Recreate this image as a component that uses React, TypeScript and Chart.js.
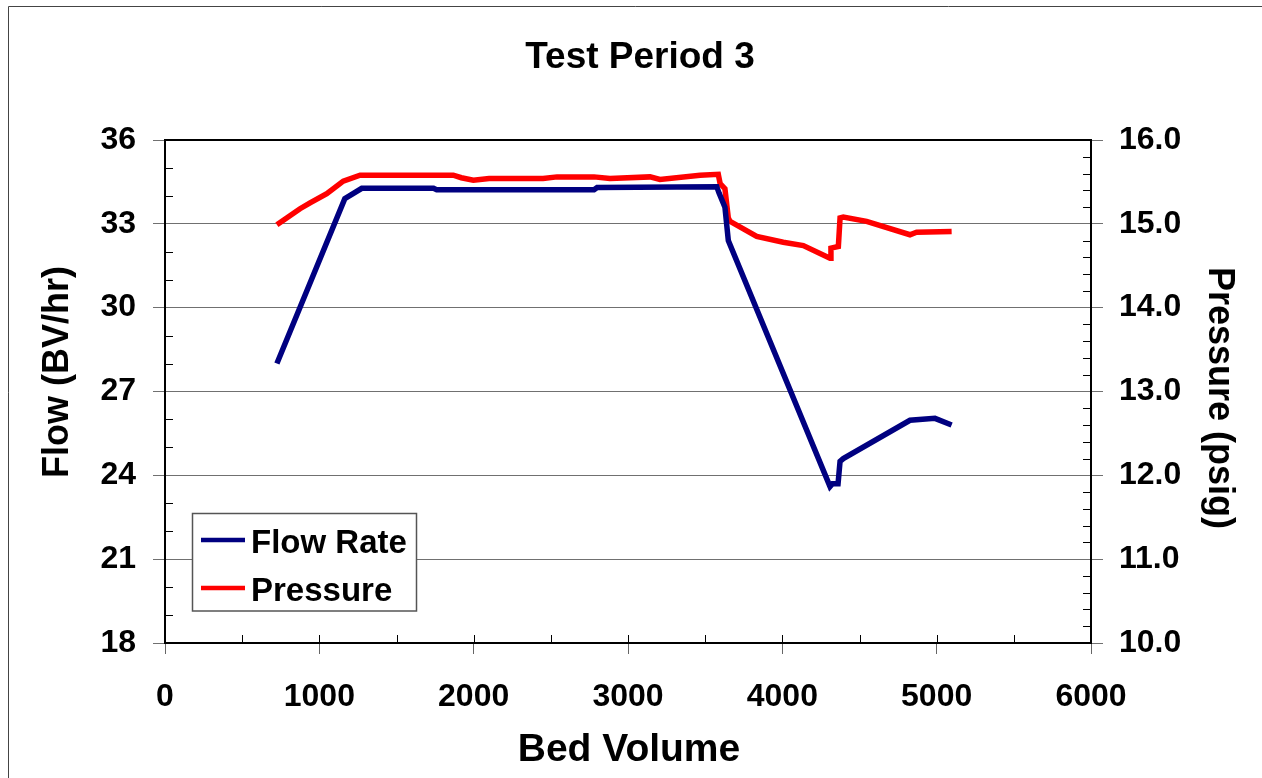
import React, { useEffect, useRef } from "react";
import { Chart, registerables } from "chart.js";

Chart.register(...registerables);

const chartTitle = "Test Period 3";
const xTitle = "Bed Volume";
const yTitle = "Flow (BV/hr)";
const y2Title = "Pressure (psig)";

const flowLabel = "Flow Rate";
const pressureLabel = "Pressure";

const flowBV = [725, 1165, 1275, 1740, 1760, 2780, 2800, 3575, 3590, 3628, 3650, 4309, 4325, 4361, 4374, 4395, 4827, 4989, 5097];
const flowRate = [28.0, 33.9, 34.27, 34.27, 34.22, 34.22, 34.3, 34.33, 34.1, 33.6, 32.4, 23.6, 23.7, 23.7, 24.5, 24.6, 25.97, 26.04, 25.8];

const pressureBV = [725, 875, 940, 1048, 1155, 1264, 1868, 1920, 1998, 2100, 2450, 2540, 2780, 2883, 3143, 3207, 3467, 3585, 3597, 3628, 3650, 3661, 3834, 4006, 4136, 4309, 4315, 4363, 4374, 4395, 4546, 4827, 4870, 5097];
const pressureVal = [14.99, 15.18, 15.25, 15.36, 15.51, 15.58, 15.58, 15.55, 15.52, 15.54, 15.54, 15.56, 15.56, 15.54, 15.56, 15.53, 15.58, 15.59, 15.48, 15.42, 15.07, 15.03, 14.85, 14.78, 14.74, 14.59, 14.71, 14.73, 15.07, 15.08, 15.03, 14.87, 14.9, 14.91];

const FLOW_COLOR = "#000080";
const PRESSURE_COLOR = "#FF0000";
const FONT = "'Liberation Sans', Arial, sans-serif";

const decorPlugin = {
  id: "decor",
  beforeDatasetsDraw(chart: any) {
    const { ctx, chartArea: ca, scales } = chart;
    ctx.save();
    ctx.strokeStyle = "#000";
    ctx.lineWidth = 1;
    ctx.beginPath();
    for (let v = 18; v <= 36; v += 1) {
      if (v % 3 === 0) continue;
      const y = Math.round(scales.y.getPixelForValue(v)) + 0.5;
      ctx.moveTo(ca.left, y);
      ctx.lineTo(ca.left + 8, y);
    }
    for (let i = 0; i <= 30; i++) {
      if (i % 5 === 0) continue;
      const v = 10 + i * 0.2;
      const y = Math.round(scales.y2.getPixelForValue(v)) + 0.5;
      ctx.moveTo(ca.right - 8, y);
      ctx.lineTo(ca.right, y);
    }
    for (let v = 500; v < 6000; v += 500) {
      const x = Math.round(scales.x.getPixelForValue(v)) + 0.5;
      ctx.moveTo(x, ca.bottom - 8);
      ctx.lineTo(x, ca.bottom);
    }
    ctx.stroke();
    ctx.lineWidth = 2;
    ctx.strokeStyle = "#000";
    ctx.strokeRect(ca.left, ca.top, ca.right - ca.left, ca.bottom - ca.top);
    ctx.restore();
  },
  afterDraw(chart: any) {
    const { ctx } = chart;
    ctx.save();
    ctx.strokeStyle = "#444";
    ctx.lineWidth = 1;
    ctx.beginPath();
    ctx.moveTo(8.5, 778);
    ctx.lineTo(8.5, 6.5);
    ctx.lineTo(1262, 6.5);
    ctx.stroke();

    ctx.fillStyle = "#000";
    ctx.textBaseline = "alphabetic";
    ctx.textAlign = "center";
    ctx.font = `bold 37px ${FONT}`;
    ctx.fillText(chartTitle, 640, 68);

    ctx.font = `bold 39px ${FONT}`;
    ctx.fillText(xTitle, 629, 761);

    ctx.font = `bold 36px ${FONT}`;
    ctx.save();
    ctx.translate(68, 372);
    ctx.rotate(-Math.PI / 2);
    ctx.fillText(yTitle, 0, 0);
    ctx.restore();

    ctx.save();
    ctx.translate(1209, 398);
    ctx.rotate(Math.PI / 2);
    ctx.fillText(y2Title, 0, 0);
    ctx.restore();

    const ds = chart.data.datasets;
    ctx.strokeStyle = "#555";
    ctx.lineWidth = 1.5;
    ctx.fillStyle = "#fff";
    ctx.fillRect(192.5, 513.5, 224, 97.5);
    ctx.strokeRect(192.5, 513.5, 224, 97.5);
    const rows = [540, 588];
    ctx.font = `bold 33px ${FONT}`;
    ctx.textAlign = "left";
    ds.forEach((d: any, i: number) => {
      ctx.strokeStyle = d.borderColor;
      ctx.lineWidth = 4.5;
      ctx.beginPath();
      ctx.moveTo(201, rows[i]);
      ctx.lineTo(245, rows[i]);
      ctx.stroke();
      ctx.fillStyle = "#000";
      ctx.fillText(d.label, 251, rows[i] + 13);
    });
    ctx.restore();
  },
};

export default function App() {
  const ref = useRef<HTMLCanvasElement>(null);
  useEffect(() => {
    if (!ref.current) return;
    const tickFont = { family: FONT, size: 32, weight: "bold" as const };
    const chart = new Chart(ref.current, {
      type: "scatter",
      data: {
        datasets: [
          {
            label: flowLabel,
            data: flowBV.map((x, i) => ({ x, y: flowRate[i] })),
            borderColor: FLOW_COLOR,
            backgroundColor: FLOW_COLOR,
            borderWidth: 5.5,
            showLine: true,
            pointRadius: 0,
            tension: 0,
            yAxisID: "y",
          },
          {
            label: pressureLabel,
            data: pressureBV.map((x, i) => ({ x, y: pressureVal[i] })),
            borderColor: PRESSURE_COLOR,
            backgroundColor: PRESSURE_COLOR,
            borderWidth: 5.5,
            showLine: true,
            pointRadius: 0,
            tension: 0,
            yAxisID: "y2",
          },
        ],
      },
      options: {
        animation: false,
        responsive: false,
        layout: { padding: { top: 140, left: 0, right: 0, bottom: 0 } },
        plugins: {
          legend: { display: false },
          title: { display: false },
          tooltip: { enabled: false },
        },
        scales: {
          x: {
            type: "linear",
            min: 0,
            max: 6000,
            ticks: { stepSize: 1000, font: tickFont, color: "#000", padding: 24, maxRotation: 0, callback: (v: any) => String(v) },
            grid: { drawOnChartArea: false, drawTicks: true, tickLength: 11, color: "#666" },
            border: { display: false },
            afterFit: (s: any) => { s.height = 135; },
          },
          y: {
            type: "linear",
            position: "left",
            min: 18,
            max: 36,
            ticks: { stepSize: 3, font: tickFont, color: "#000", padding: 17 },
            grid: { drawOnChartArea: true, drawTicks: true, tickLength: 12, color: "#707070" },
            border: { display: false },
            afterFit: (s: any) => { s.width = 165; },
          },
          y2: {
            type: "linear",
            position: "right",
            min: 10,
            max: 16,
            ticks: { stepSize: 1, font: tickFont, color: "#000", padding: 16, callback: (v: any) => Number(v).toFixed(1) },
            grid: { drawOnChartArea: false, drawTicks: true, tickLength: 12, color: "#707070" },
            border: { display: false },
            afterFit: (s: any) => { s.width = 171; },
          },
        },
      },
      plugins: [decorPlugin],
    });
    return () => chart.destroy();
  }, []);
  return (
    <div style={{ position: "fixed", left: 0, top: 0, width: 1262, height: 778, background: "#fff" }}>
      <canvas ref={ref} width={1262} height={778} style={{ display: "block" }} />
    </div>
  );
}
